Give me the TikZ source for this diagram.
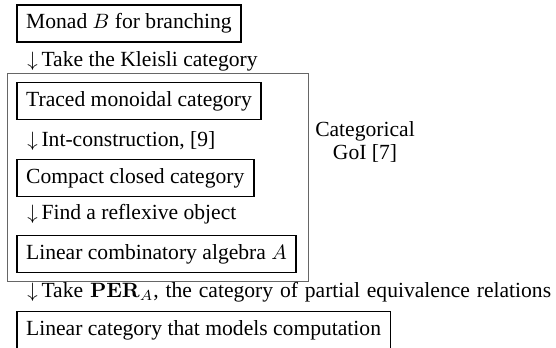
\documentclass[tikz,border=0pt]{standalone}
\usepackage[no-math]{fontspec}
\setmainfont{Liberation Serif}
\newcommand{\stepdown}{$\downarrow$\kern1.8pt}
\begin{document}
\begin{tikzpicture}[x=0.4818pt,y=-0.4818pt,
  stagebox/.style={draw,line width=0.8pt,anchor=west,inner xsep=4.5pt,inner ysep=0pt,minimum height=37*0.4818pt,font=\fontsize{10.4}{12}\selectfont},
  steplabel/.style={anchor=west,inner sep=0pt,font=\fontsize{10.4}{12}\selectfont},
  groupbox/.style={draw=black!60,line width=0.45pt}]
\useasboundingbox (0,0) rectangle (556,347);
\draw[groupbox] (7,73) rectangle (308,281);
\node[stagebox] (b1) at (16,23.5) {Monad $B$ for branching};
\node[steplabel] (l1) at (27,61) {\stepdown Take the Kleisli category};
\node[stagebox] (b2) at (16,101) {Traced monoidal category};
\node[steplabel] (l2) at (27,141) {\stepdown Int-construction, [9]};
\node[stagebox] (b3) at (16,178) {Compact closed category};
\node[steplabel] (l3) at (27,214) {\stepdown Find a reflexive object};
\node[stagebox] (b4) at (16,254) {Linear combinatory algebra $A$};
\node[steplabel] (l4) at (27,292) {\spaceskip=3.3pt\stepdown Take $\mathbf{PER}_A$, the category of partial equivalence relations};
\node[stagebox] (b5) at (16,330) {Linear category that models computation};
\node[align=center,inner sep=0pt,font=\fontsize{10.4}{11}\selectfont] (goi) at (365,142) {Categorical\\GoI [7]};
\end{tikzpicture}
\end{document}
